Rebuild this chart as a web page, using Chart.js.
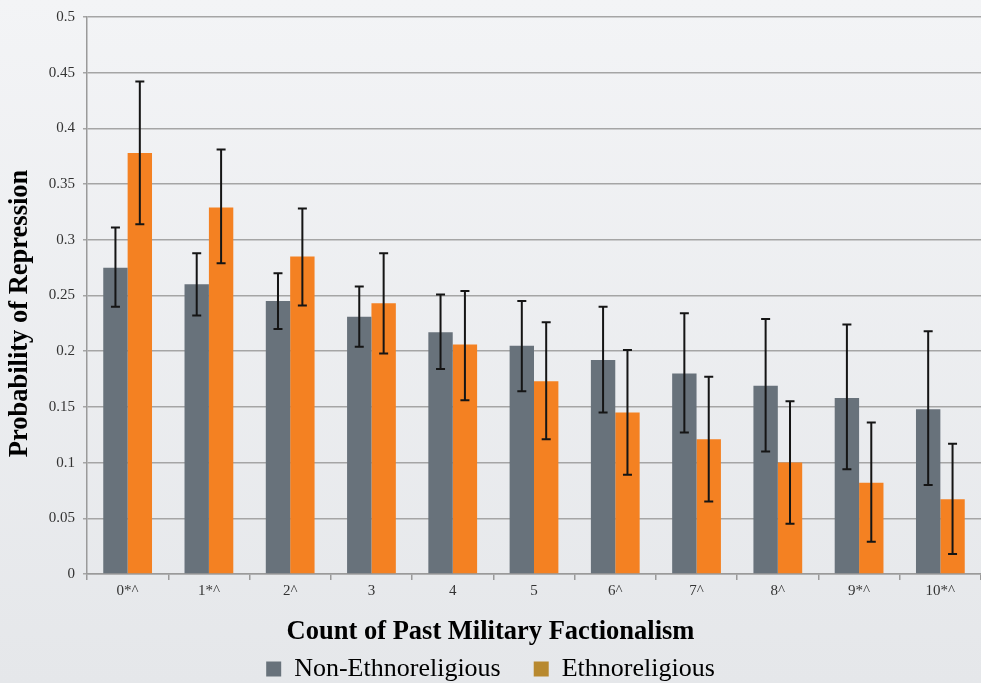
<!DOCTYPE html>
<html><head><meta charset="utf-8">
<script src="https://cdn.jsdelivr.net/npm/chart.js@4.4.0/dist/chart.umd.min.js"></script>
<style>
html,body{margin:0;padding:0;}
body{width:981px;height:683px;background:linear-gradient(#f3f4f6,#e5e7ea);overflow:hidden;}
canvas{display:block;}
</style></head><body>
<canvas id="c" width="981" height="683"></canvas>
<script>
const categories = ['0*^','1*^','2^','3','4','5','6^','7^','8^','9*^','10*^'];
const seriesNames = ['Non-Ethnoreligious','Ethnoreligious'];
const nonEthno     = [0.275,0.260,0.245,0.231,0.217,0.205,0.192,0.180,0.169,0.158,0.148];
const nonEthnoLow  = [0.240,0.232,0.220,0.204,0.184,0.164,0.145,0.127,0.110,0.094,0.080];
const nonEthnoHigh = [0.311,0.288,0.270,0.258,0.251,0.245,0.240,0.234,0.229,0.224,0.218];
const ethno        = [0.378,0.329,0.285,0.243,0.206,0.173,0.145,0.121,0.100,0.082,0.067];
const ethnoLow     = [0.314,0.279,0.241,0.198,0.156,0.121,0.089,0.065,0.045,0.029,0.018];
const ethnoHigh    = [0.442,0.381,0.328,0.288,0.254,0.226,0.201,0.177,0.155,0.136,0.117];
const yTickLabels  = ['0','0.05','0.1','0.15','0.2','0.25','0.3','0.35','0.4','0.45','0.5'];
const xTitle = 'Count of Past Military Factionalism';
const yTitle = 'Probability of Repression';

const FONT = "'Liberation Serif','Times New Roman',serif";
const GRAY = '#68727b';
const ORANGE = '#f48122';
const LEGEND_COLORS = ['#68727b', '#b8892f'];

const errorBars = {
  id: 'errorBars',
  afterDatasetsDraw(chart) {
    const ctx = chart.ctx;
    const y = chart.scales.y;
    const ranges = [[nonEthnoLow, nonEthnoHigh], [ethnoLow, ethnoHigh]];
    ctx.save();
    ctx.strokeStyle = '#151515';
    ctx.lineWidth = 2;
    chart.data.datasets.forEach((ds, di) => {
      const meta = chart.getDatasetMeta(di);
      meta.data.forEach((bar, i) => {
        const x = bar.x;
        const yl = y.getPixelForValue(ranges[di][0][i]);
        const yh = y.getPixelForValue(ranges[di][1][i]);
        ctx.beginPath();
        ctx.moveTo(x, yl); ctx.lineTo(x, yh);
        ctx.moveTo(x - 4.5, yl); ctx.lineTo(x + 4.5, yl);
        ctx.moveTo(x - 4.5, yh); ctx.lineTo(x + 4.5, yh);
        ctx.stroke();
      });
    });
    ctx.restore();
  }
};

const yTitlePlugin = {
  id: 'yTitlePlugin',
  afterDraw(chart) {
    const ctx = chart.ctx;
    const a = chart.chartArea;
    ctx.save();
    ctx.translate(20, (a.top + a.bottom) / 2 + 18);
    ctx.rotate(-Math.PI / 2);
    ctx.font = "bold 26.5px " + FONT;
    ctx.fillStyle = '#000';
    ctx.textAlign = 'center';
    ctx.textBaseline = 'middle';
    ctx.fillText(yTitle, 0, 0);
    ctx.restore();
  }
};

new Chart(document.getElementById('c'), {
  type: 'bar',
  data: {
    labels: categories,
    datasets: [
      { label: seriesNames[0], data: nonEthno, backgroundColor: GRAY, borderWidth: 0,
        categoryPercentage: 0.6, barPercentage: 1.0 },
      { label: seriesNames[1], data: ethno, backgroundColor: ORANGE, borderWidth: 0,
        categoryPercentage: 0.6, barPercentage: 1.0 }
    ]
  },
  options: {
    responsive: false,
    animation: false,
    layout: { padding: { top: 10, right: 0, bottom: -9, left: 0 } },
    scales: {
      x: {
        offset: true,
        grid: { display: true, drawOnChartArea: false, drawTicks: true, tickLength: 6,
                color: '#9a9a9a', lineWidth: 1.5, offset: true },
        border: { color: '#9a9a9a', width: 1.5 },
        ticks: { font: { family: FONT, size: 15 }, color: '#333', padding: 2, maxRotation: 0 },
        afterFit(s) { s.height = 30; }
      },
      y: {
        min: 0, max: 0.5,
        ticks: { stepSize: 0.05, callback: (v, i) => yTickLabels[i],
                 font: { family: FONT, size: 15 }, color: '#333', padding: 8 },
        grid: { color: '#a5a5a5', lineWidth: 1.5, tickLength: 4 },
        border: { color: '#9a9a9a', width: 1.5 },
        afterFit(s) { s.width = 87; }
      }
    },
    plugins: {
      tooltip: { enabled: false },
      title: {
        display: true, text: xTitle, position: 'bottom', weight: 500,
        font: { family: FONT, size: 26.5, weight: 'bold' }, color: '#000',
        padding: { top: 12, bottom: -24.8 }
      },
      legend: {
        position: 'bottom',
        labels: {
          font: { family: FONT, size: 26 }, color: '#000',
          boxWidth: 15, boxHeight: 15, padding: 33,
          generateLabels(chart) {
            const items = Chart.defaults.plugins.legend.labels.generateLabels(chart);
            items.forEach((it, i) => { it.fillStyle = LEGEND_COLORS[i]; it.strokeStyle = LEGEND_COLORS[i]; it.lineWidth = 0; });
            return items;
          }
        }
      }
    }
  },
  plugins: [errorBars, yTitlePlugin]
});
</script>
</body></html>
